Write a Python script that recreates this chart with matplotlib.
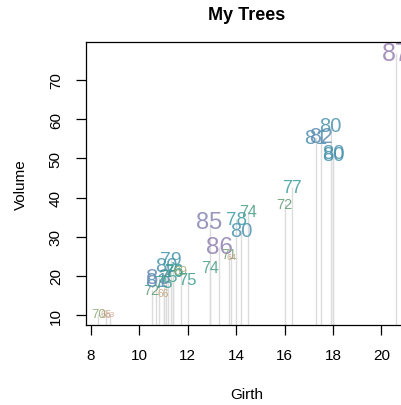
import matplotlib

matplotlib.use("Agg")

import matplotlib.pyplot as plt
import numpy as np
from matplotlib.colors import LinearSegmentedColormap

# R "trees" data
girth = [8.3, 8.6, 8.8, 10.5, 10.7, 10.8, 11.0, 11.0, 11.1, 11.2, 11.3, 11.4,
         11.4, 11.7, 12.0, 12.9, 12.9, 13.3, 13.7, 13.8, 14.0, 14.2, 14.5,
         16.0, 16.3, 17.3, 17.5, 17.9, 18.0, 18.0, 20.6]
height = [70, 65, 63, 72, 81, 83, 66, 75, 80, 75, 79, 76, 76, 69, 75, 74, 85,
          86, 71, 64, 78, 80, 74, 72, 77, 81, 82, 80, 80, 80, 87]
volume = [10.3, 10.3, 10.2, 16.4, 18.8, 19.7, 15.6, 18.2, 22.6, 19.9, 24.2,
          21.0, 21.4, 21.3, 19.1, 22.2, 33.8, 27.4, 25.7, 24.9, 34.5, 31.7,
          36.3, 38.3, 42.6, 55.4, 55.7, 58.3, 51.5, 51.0, 77.0]
x_ticks = [8, 10, 12, 14, 16, 18, 20]
y_ticks = [10, 20, 30, 40, 50, 60, 70]

plt.rcParams["font.family"] = ["Liberation Sans", "DejaVu Sans"]

cmap = LinearSegmentedColormap.from_list(
    "trees",
    ["#cf9f90", "#bfa276", "#9fab70", "#5f9b70", "#3a9c8c", "#3c9aa6",
     "#4f8fb0", "#7d88b4", "#9a7fb0"],
)

fig = plt.figure(figsize=(4.01, 4.06), dpi=100)
ax = fig.add_axes([0.2155, 0.1978, 0.8015, 0.696])

x = np.array(girth)
y = np.array(volume)
h = np.array(height)
xpad = (x.max() - x.min()) * 0.04
ypad = (y.max() - y.min()) * 0.04
ax.set_xlim(x.min() - xpad, x.max() + xpad)
ax.set_ylim(y.min() - ypad, y.max() + ypad)

ax.vlines(x, 0, y, color="#dcdcdc", lw=1.0, zorder=1)

hn = (h - h.min()) / (h.max() - h.min())
for xi, yi, hi, c in zip(x, y, h, hn):
    ax.text(xi, yi, str(hi), ha="center", va="center",
            fontsize=6 + (hi - 63) * 0.5, color=cmap(c), alpha=0.85,
            zorder=2)

ax.set_xticks(x_ticks)
ax.set_yticks(y_ticks)
ax.tick_params(length=7, width=0.9, labelsize=11, pad=10)
for lab in ax.get_yticklabels():
    lab.set_rotation(90)
    lab.set_va("center")
for s in ax.spines.values():
    s.set_linewidth(0.9)

ax.set_xlabel("Girth", fontsize=11, labelpad=18)
ax.set_ylabel("Volume", fontsize=11, labelpad=15)
fig.text(0.616, 0.963, "My Trees", ha="center", va="center",
         fontsize=13, fontweight="bold")

fig.savefig("out.png", dpi=100)
